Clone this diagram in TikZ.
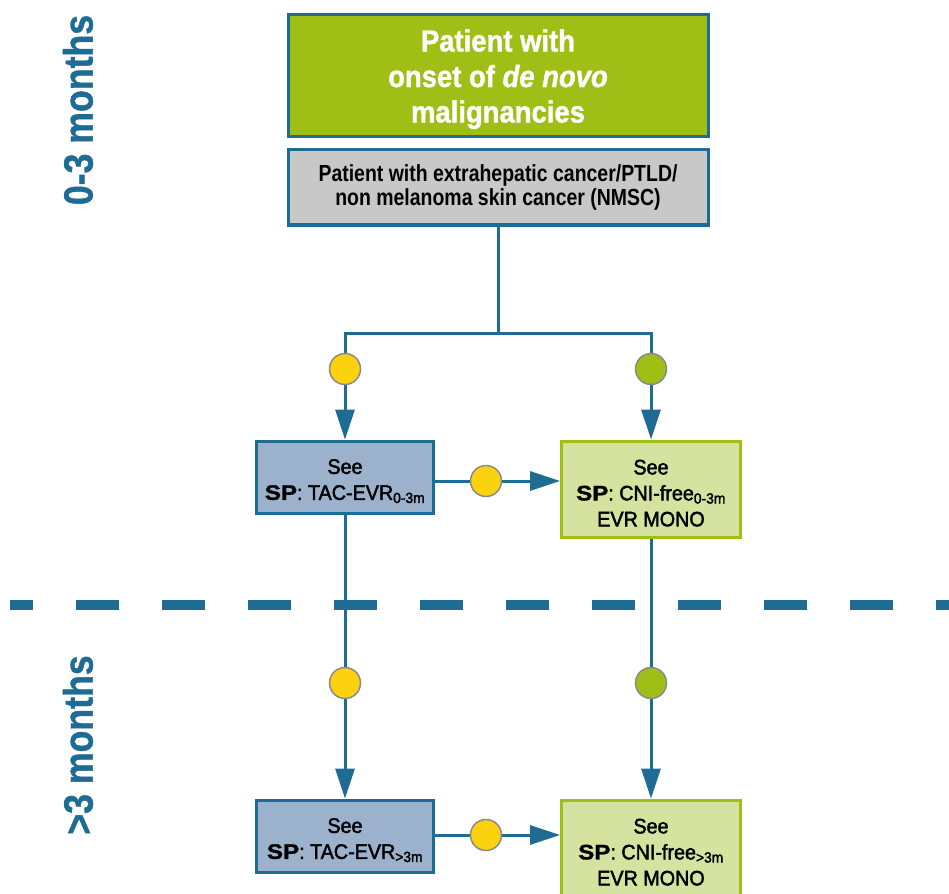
\documentclass[tikz,border=0pt]{standalone}
\usepackage{fontspec}
\setmainfont{Liberation Sans}
\newfontfamily\headfont[FakeStretch=0.9,FakeBold=1.2]{Liberation Sans Bold}
\newfontfamily\grayfont[FakeStretch=0.835]{Liberation Sans Bold}
\newfontfamily\periodfont[FakeStretch=0.87,FakeBold=1]{Liberation Sans Bold}
\newfontfamily\medfont[FakeStretch=0.94,FakeBold=2]{Liberation Sans}
\newfontfamily\spfont[FakeStretch=1.15,FakeBold=1.5]{Liberation Sans Bold}
\usetikzlibrary{arrows.meta}

\definecolor{flowblue}{RGB}{30,108,148}
\definecolor{limegreen}{RGB}{159,191,23}
\definecolor{boxgray}{RGB}{200,200,200}
\definecolor{paleblue}{RGB}{155,177,204}
\definecolor{palegreen}{RGB}{214,227,160}
\definecolor{dotyellow}{RGB}{252,210,15}
\definecolor{dotrim}{RGB}{138,138,138}

\newcommand{\SP}{{\spfont SP}}
% invisible props that lower the first line of a box text
\newcommand{\headprop}{\rule{0pt}{28.5pt}}
\newcommand{\boxprop}{\rule{0pt}{23pt}}

\tikzset{
  headbox/.style={draw=flowblue, line width=3pt, fill=limegreen, text=white,
    minimum width=420pt, minimum height=122pt, inner sep=0pt, align=center,
    font=\headfont\fontsize{30.5}{35.5}\selectfont},
  graybox/.style={draw=flowblue, line width=3pt, fill=boxgray,
    minimum width=420pt, minimum height=75pt, inner sep=0pt, align=center,
    font=\grayfont\fontsize{23.3}{23.5}\selectfont},
  tacbox/.style={draw=flowblue, line width=3pt, fill=paleblue,
    minimum width=177pt, minimum height=72pt, inner sep=0pt, align=center,
    font=\medfont\fontsize{21}{26}\selectfont},
  cnibox/.style={draw=limegreen, line width=3pt, fill=palegreen,
    minimum width=179pt, minimum height=96pt, inner sep=0pt, align=center,
    font=\medfont\fontsize{21}{26}\selectfont},
  dot/.style={circle, draw=dotrim, line width=1.5pt, minimum size=31pt, inner sep=0pt},
  ydot/.style={dot, fill=dotyellow},
  gdot/.style={dot, fill=limegreen},
  link/.style={draw=flowblue, line width=3pt},
  arrowlink/.style={link, -{Triangle[length=30pt,width=19pt]}},
  periodlabel/.style={text=flowblue, rotate=90,
    font=\periodfont\fontsize{41}{41}\selectfont},
}

\begin{document}
\begin{tikzpicture}[x=1pt,y=-1pt]
\useasboundingbox (0,0) rectangle (949,893);

% period separator
\draw[flowblue, line width=10pt, dash pattern=on 43pt off 43pt, dash phase=20pt]
  (10,605) -- (949,605);

% period labels
\node[periodlabel] (early) at (78,110) {0-3 months};
\node[periodlabel] (late) at (78,745) {>3 months};

% boxes
\node[headbox] (onset) at (498,76) {\headprop Patient with\\onset of {\itshape de novo}\\malignancies};
\node[graybox] (cancer) at (498,187.5) {Patient with extrahepatic cancer/PTLD/\\non melanoma skin cancer (NMSC)};
\node[tacbox] (tac1) at (345,477) {\boxprop See\\\SP: TAC-EVR\textsubscript{0-3m}};
\node[cnibox] (cni1) at (651,489) {\boxprop See\\\SP: CNI-free\textsubscript{0-3m}\\EVR MONO};
\node[tacbox] (tac2) at (345,836) {\boxprop See\\\SP: TAC-EVR\textsubscript{>3m}};
\node[cnibox] (cni2) at (651,848) {\boxprop See\\\SP: CNI-free\textsubscript{>3m}\\EVR MONO};

% branching point
\coordinate (split) at (498,333);

% connectors
\draw[link] (cancer.south) -- (split);
\draw[arrowlink] (split) -| (tac1.north);
\draw[arrowlink] (split) -| (cni1.north);
\draw[arrowlink] (tac1.south) -- (tac2.north);
\draw[arrowlink] (cni1.south) -- (cni2.north);
\coordinate (h1) at (486,481);
\coordinate (h2) at (486,835);
\draw[arrowlink] (tac1.east |- h1) -- (cni1.west |- h1);
\draw[arrowlink] (tac2.east |- h2) -- (cni2.west |- h2);

% decision dots
\node[ydot] (d1) at (345,369) {};
\node[gdot] (d2) at (651,369) {};
\node[ydot] (d3) at (h1) {};
\node[ydot] (d4) at (345,683) {};
\node[gdot] (d5) at (651,683) {};
\node[ydot] (d6) at (h2) {};
\end{tikzpicture}
\end{document}
